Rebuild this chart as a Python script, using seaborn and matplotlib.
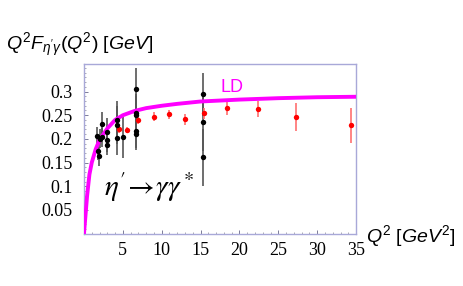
import matplotlib
matplotlib.use("Agg")
import matplotlib.pyplot as plt
import numpy as np
import pandas as pd
import seaborn as sns

# black data points (CELLO / CLEO)
black_q2 = [1.71, 1.84, 1.97, 2.06, 2.27, 2.35, 3.0, 3.0, 3.0, 4.2, 4.2, 4.2, 4.97,
            6.64, 6.64, 6.64, 6.64, 6.64, 15.3, 15.3, 15.3]
black_f = [0.206, 0.175, 0.163, 0.200, 0.232, 0.203, 0.215, 0.198, 0.187, 0.240, 0.230,
           0.201, 0.205, 0.306, 0.255, 0.250, 0.217, 0.211, 0.294, 0.235, 0.161]
black_err = [0.02, 0.02, 0.02, 0.02, 0.025, 0.02, 0.03, 0.025, 0.02, 0.04, 0.04, 0.035,
             0.045, 0.043, 0.04, 0.04, 0.04, 0.03, 0.045, 0.06, 0.06]

# red data points (BaBar)
red_q2 = [4.54, 5.53, 6.94, 9.0, 11.0, 13.0, 15.4, 18.4, 22.4, 27.3, 34.4]
red_f = [0.221, 0.219, 0.239, 0.247, 0.252, 0.241, 0.254, 0.265, 0.263, 0.246, 0.229]
red_err = [0.008, 0.007, 0.008, 0.009, 0.009, 0.011, 0.012, 0.015, 0.017, 0.029, 0.037]

# LD curve
ld_q2 = [0, 0.2, 0.4, 0.7, 1.0, 1.5, 2, 3, 4, 5, 6.5, 8, 10, 12, 15, 20, 25, 30, 35]
ld_f = [0, 0.04, 0.08, 0.125, 0.15, 0.178, 0.198, 0.222, 0.24, 0.25, 0.259, 0.265,
        0.27, 0.274, 0.279, 0.283, 0.286, 0.288, 0.289]

x_ticks = [5, 10, 15, 20, 25, 30, 35]
y_ticks = [0.05, 0.1, 0.15, 0.2, 0.25, 0.3]
y_ticklabels = ["0.05", "0.1", "0.15", "0.2", "0.25", "0.3"]

sns.set_theme(style="white")
plt.rcParams["mathtext.fontset"] = "custom"
plt.rcParams["mathtext.it"] = "Liberation Sans:italic"
plt.rcParams["mathtext.rm"] = "Liberation Sans"
plt.rcParams["text.color"] = "black"

fig = plt.figure(figsize=(4.63, 2.86), dpi=100)
ax = fig.add_axes([0.1814, 0.183, 0.5876, 0.593])

frame = "#a8a8d8"

ax.errorbar(black_q2, black_f, yerr=black_err, fmt="none", ecolor="#555555", elinewidth=1.2, zorder=2)
ax.errorbar(red_q2, red_f, yerr=red_err, fmt="none", ecolor="#ff7070", elinewidth=1.2, zorder=2)

ld = pd.DataFrame({"q2": ld_q2, "f": ld_f})
sns.lineplot(data=ld, x="q2", y="f", color="#ff00ff", linewidth=2.8, ax=ax, zorder=3)

sns.scatterplot(x=red_q2, y=red_f, color="red", s=15, marker="o", edgecolor="red", linewidth=0, ax=ax, zorder=4)
sns.scatterplot(x=black_q2, y=black_f, color="black", s=15, marker="o", edgecolor="black", linewidth=0, ax=ax, zorder=4)

ax.text(17.6, 0.298, "LD", color="#ff00ff", fontsize=13, family="Liberation Sans")
ax.text(2.6, 0.08, r"$\eta'\!\rightarrow\!\gamma\gamma^*$", fontsize=21, math_fontfamily="stix")

ax.set_xlim(0, 35)
ax.set_ylim(0, 0.358)
ax.set_xticks(x_ticks)
ax.set_xticklabels([str(t) for t in x_ticks], family="Liberation Serif", fontsize=13, color="black")
ax.set_yticks(y_ticks)
ax.set_yticklabels(y_ticklabels, family="Liberation Serif", fontsize=13, color="black")
ax.set_xticks(np.arange(1, 35, 1), minor=True)
ax.set_yticks(np.arange(0.01, 0.36, 0.01), minor=True)
ax.tick_params(axis="both", which="major", direction="in", length=3, width=0.6, color="#666688", left=True, bottom=True)
ax.tick_params(axis="y", which="major", pad=8)
ax.tick_params(axis="x", which="major", pad=6)
ax.tick_params(axis="both", which="minor", direction="in", length=1.5, width=0.5, color="#888899", left=True, bottom=True)
ax.set_xlabel("")
ax.set_ylabel("")
for s in ax.spines.values():
    s.set_color(frame)
    s.set_linewidth(1.0)

fig.text(6 / 463, 1 - 45 / 286, r"$Q^2F_{\eta'\gamma}(Q^2)\ [GeV]$", fontsize=14, va="center", ha="left")
fig.text(366 / 463, 1 - 236 / 286, r"$Q^2\ [GeV^2]$", fontsize=14, va="center", ha="left")

fig.savefig("out.png", dpi=100)
